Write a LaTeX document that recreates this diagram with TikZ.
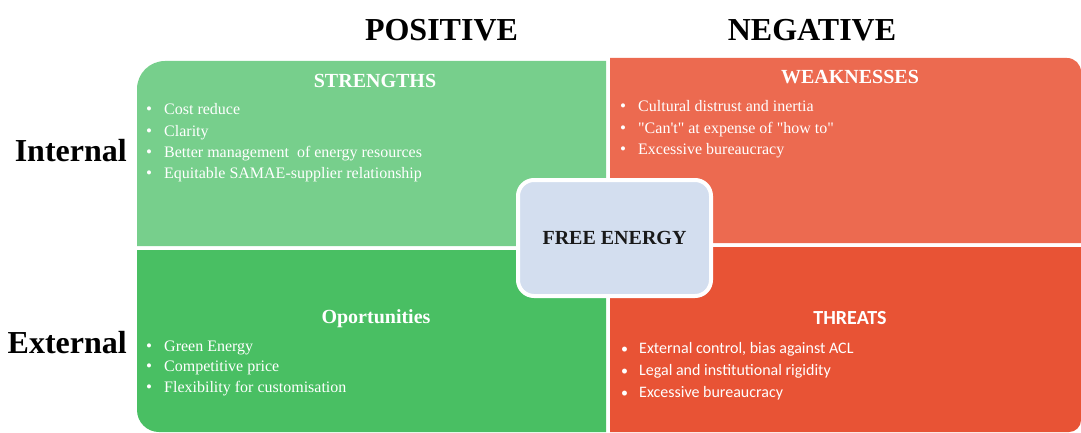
\documentclass[tikz,border=0pt]{standalone}
\usepackage{fontspec}
\setmainfont{Liberation Serif}
\newfontfamily\calibrifont{Carlito}

\definecolor{strengthgreen}{HTML}{77CF8C}
\definecolor{weakorange}{HTML}{EC6A50}
\definecolor{oppgreen}{HTML}{49BF63}
\definecolor{threatred}{HTML}{E85335}
\definecolor{centreblue}{HTML}{D3DEEF}

% bullet in a fixed-width box, size given as argument
\newcommand{\swotbullet}[1][17]{\makebox[18pt][l]{\fontsize{#1}{#1}\selectfont\textbullet}}

\begin{document}
\begin{tikzpicture}[x=1pt, y=1pt,
        heading/.style = {font=\fontsize{32}{36}\selectfont\bfseries, inner sep=0pt},
        boxtitle/.style = {font=\fontsize{20}{24}\selectfont\bfseries, text=white, inner sep=0pt, anchor=base},
        point/.style = {font=\fontsize{16}{20}\selectfont, text=white, inner sep=0pt, anchor=base west}]
    \useasboundingbox (0,0) rectangle (1081,432);

    % the four quadrants, each rounded only at its outer corner
    \fill[strengthgreen] (137,186) -- (137,343) arc[start angle=180, end angle=90, radius=28] -- (606,371) -- (606,186) -- cycle;
    \fill[weakorange] (610,189) -- (610,374) -- (1067,374) arc[start angle=90, end angle=0, radius=14] -- (1081,189) -- cycle;
    \fill[oppgreen] (137,182) -- (137,22) arc[start angle=180, end angle=270, radius=22] -- (606,0) -- (606,182) -- cycle;
    \fill[threatred] (610,185) -- (610,0) -- (1069,0) arc[start angle=270, end angle=360, radius=12] -- (1081,185) -- cycle;

    % axis headings
    \node[heading, anchor=base] (positive) at (441.5,391) {POSITIVE};
    \node[heading, anchor=base] (negative) at (812,391) {NEGATIVE};
    \node[heading, anchor=base east] (internal) at (127,271) {Internal};
    \node[heading, anchor=base east] (external) at (127,79) {External};

    % titles
    \node[boxtitle] (strengths) at (375,344) {STRENGTHS};
    \node[boxtitle] (weaknesses) at (850,348) {WEAKNESSES};
    \node[boxtitle] (opportunities) at (376,109) {Oportunities};
    \node[boxtitle, font=\fontsize{20}{24}\selectfont\calibrifont\bfseries] (threats) at (850,108) {THREATS};

    % bullet points
    \foreach \txt [count=\i] in {Cost reduce, Clarity, Better management\ \ of energy resources, Equitable SAMAE-supplier relationship}
        \node[point] (s\i) at (146,{317-21*(\i-1)}) {\swotbullet\txt};
    \foreach \txt [count=\i] in {Cultural distrust and inertia, \textquotedbl Can\textquotesingle t\textquotedbl\ at expense of \textquotedbl how to\textquotedbl, Excessive bureaucracy}
        \node[point] (w\i) at (620,{320-21*(\i-1)}) {\swotbullet\txt};
    \foreach \txt [count=\i] in {Green Energy, Competitive price, Flexibility for customisation}
        \node[point] (o\i) at (146,{81-20.5*(\i-1)}) {\swotbullet\txt};
    \foreach \txt [count=\i] in {{External control, bias against ACL}, Legal and institutional rigidity, Excessive bureaucracy}
        \node[point, font=\fontsize{16}{20}\selectfont\calibrifont] (t\i) at (621,{79-22*(\i-1)}) {\swotbullet[14]\txt};

    % centre box
    \node[draw=white, line width=4pt, fill=centreblue, rounded corners=16pt,
          minimum width=193pt, minimum height=116pt,
          font=\fontsize{20}{24}\selectfont\bfseries, text=black!90] (centre) at (614.5,194) {FREE ENERGY};
\end{tikzpicture}
\end{document}
